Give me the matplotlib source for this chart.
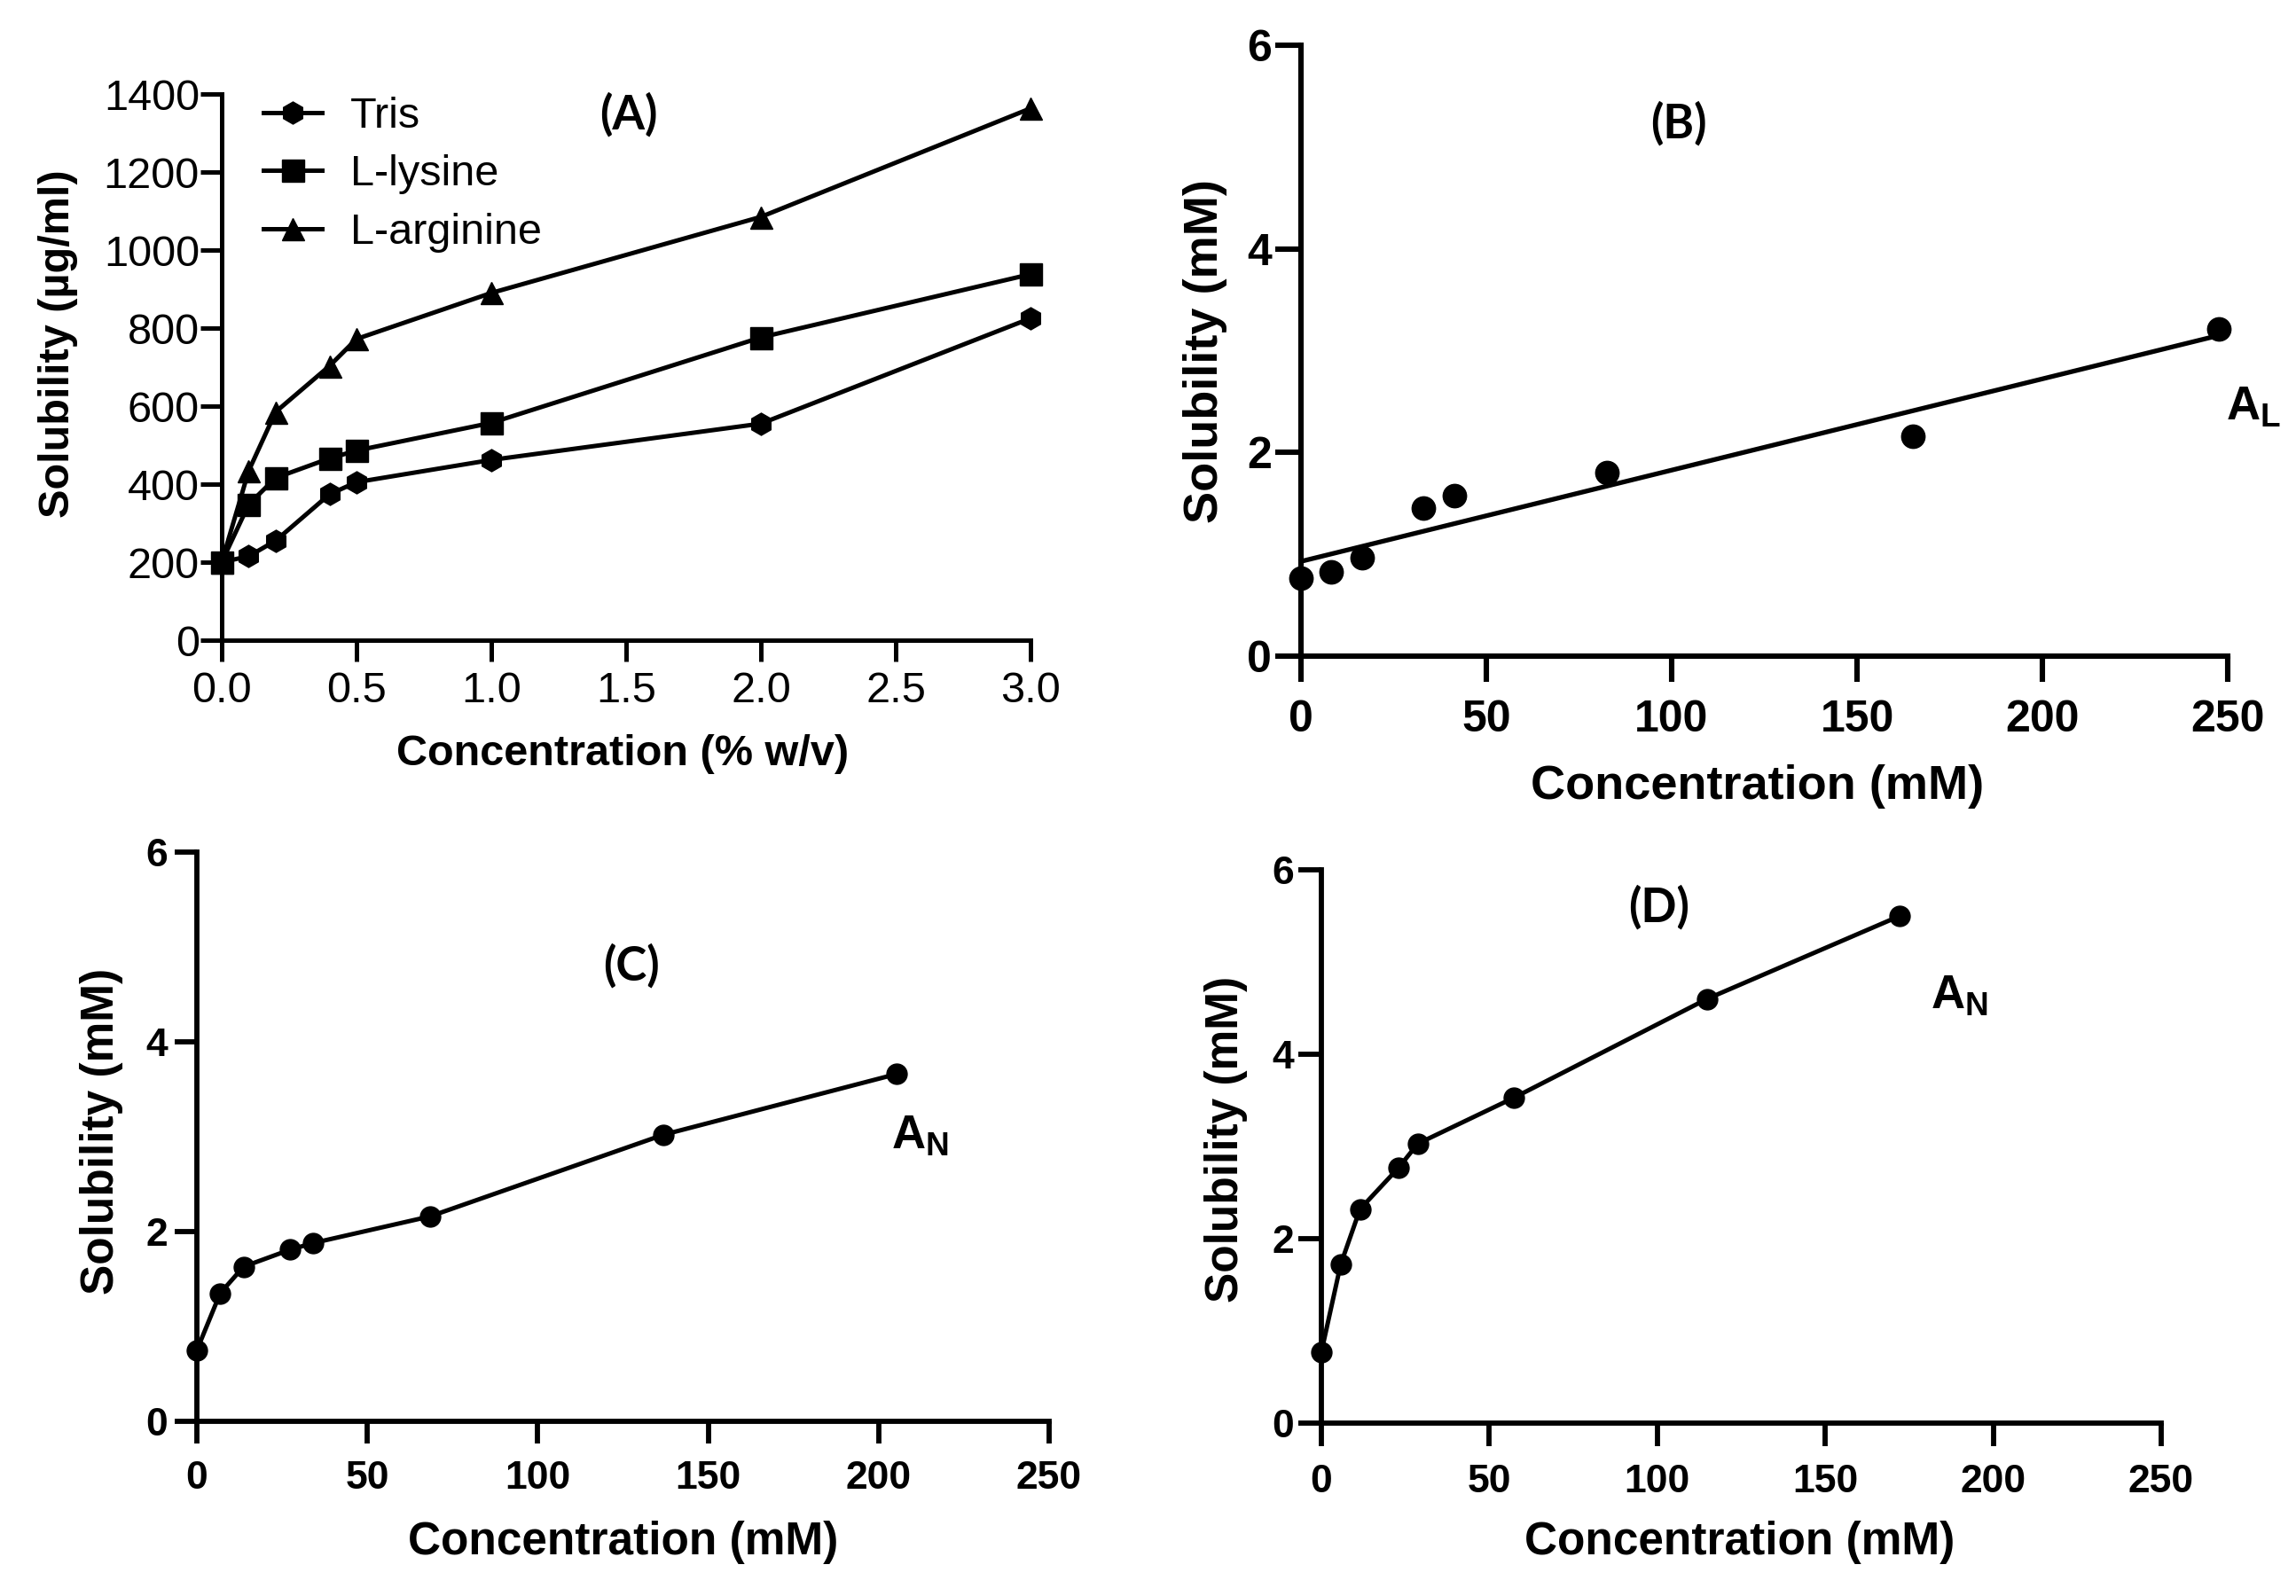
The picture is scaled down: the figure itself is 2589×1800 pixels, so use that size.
import numpy as np
import matplotlib
matplotlib.use("Agg")
import matplotlib.pyplot as plt
from matplotlib import font_manager

# panel A: solubility (ug/ml) vs concentration (% w/v)
conc_pct = [0.0, 0.1, 0.2, 0.4, 0.5, 1.0, 2.0, 3.0]
tris_ug = [200, 215, 255, 374, 405, 462, 555, 825]
lysine_ug = [200, 348, 416, 466, 486, 557, 776, 938]
arginine_ug = [200, 434, 585, 703, 772, 890, 1085, 1363]

# panel B: Tris (mM), linear fit
b_conc = [0, 8.25, 16.5, 33.0, 41.3, 82.5, 165.1, 247.6]
b_sol = [0.77, 0.83, 0.97, 1.45, 1.58, 1.80, 2.16, 3.21]

# panel C: L-lysine (mM)
c_conc = [0, 6.84, 13.7, 27.4, 34.2, 68.4, 136.8, 205.2]
c_sol = [0.75, 1.35, 1.63, 1.81, 1.88, 2.16, 3.02, 3.66]

# panel D: L-arginine (mM)
d_conc = [0, 5.74, 11.5, 23.0, 28.7, 57.4, 114.8, 172.2]
d_sol = [0.77, 1.72, 2.32, 2.77, 3.03, 3.53, 4.60, 5.50]

names = {f.name for f in font_manager.fontManager.ttflist}
narrow = 'Liberation Sans Narrow' if 'Liberation Sans Narrow' in names else 'Liberation Sans'
plt.rcParams['font.family'] = ['Liberation Sans', 'DejaVu Sans']
plt.rcParams['mathtext.fontset'] = 'custom'
plt.rcParams['mathtext.rm'] = 'Liberation Sans'
plt.rcParams['mathtext.bf'] = 'Liberation Sans:bold'

fig = plt.figure(figsize=(25.89, 18), dpi=100)


def frame(ax, lw, ticklen, fs, bold=True, family=None, xpad=6, ypad=3):
    for s in ['top', 'right']:
        ax.spines[s].set_visible(False)
    for s in ['left', 'bottom']:
        ax.spines[s].set_linewidth(lw)
    ax.tick_params(direction='out', length=ticklen, width=lw, labelsize=fs)
    ax.tick_params(axis='x', pad=xpad)
    ax.tick_params(axis='y', pad=ypad)
    for t in ax.get_xticklabels() + ax.get_yticklabels():
        t.set_fontweight('bold' if bold else 'normal')
        if family:
            t.set_family(family)


# ---- (A)
axA = fig.add_axes([250/2589, 1-722/1800, 912/2589, 616/1800])
kw = dict(color='black', lw=3.6, ms=18, clip_on=False, zorder=3)
axA.plot(conc_pct, tris_ug, marker='h', label='Tris', **kw)
axA.plot(conc_pct, lysine_ug, marker='s', label='L-lysine', **kw)
axA.plot(conc_pct, arginine_ug, marker='^', label='L-arginine', **kw)
axA.set_xlim(0, 3.0)
axA.set_ylim(0, 1400)
axA.set_xticks(np.arange(0, 3.01, 0.5))
axA.set_xticklabels([f'{v:.1f}' for v in np.arange(0, 3.01, 0.5)])
axA.set_yticks(np.arange(0, 1401, 200))
frame(axA, 3.6, 17, 35, bold=False, family=narrow, xpad=8, ypad=1)
axA.set_xlabel('Concentration (% w/v)', fontsize=35, fontweight='bold', va='center')
axA.xaxis.set_label_coords(0.496, -0.208)
axA.set_ylabel('Solubility (µg/ml)', fontsize=35, fontweight='bold', va='center')
axA.yaxis.set_label_coords(-0.202, 0.542)
axA.text(1.51, 1348, '(A)', fontsize=38, fontweight='bold', family='Lato',
         ha='center', va='center')
axA.legend(loc='upper left', bbox_to_anchor=(0.052, 0.995), frameon=False,
           fontsize=35, handlelength=1.35, handletextpad=0.65, labelspacing=0.42,
           borderpad=0, borderaxespad=0)

# ---- (B)
axB = fig.add_axes([1467/2589, 1-740/1800, 1045/2589, 689/1800])
axB.plot(b_conc, b_sol, 'o', color='black', ms=19, clip_on=False, zorder=3)
slope, icpt = np.polyfit(b_conc, b_sol, 1)
xfit = np.array([b_conc[0], b_conc[-1]])
axB.plot(xfit, slope*xfit + icpt, color='black', lw=3.8, clip_on=False)
axB.set_xlim(0, 250)
axB.set_ylim(0, 6)
axB.set_xticks(range(0, 251, 50))
axB.set_yticks([0, 2, 4, 6])
frame(axB, 4.4, 21, 36, xpad=14, ypad=3)
axB.set_xlabel('Concentration (mM)', fontsize=39, fontweight='bold', va='center')
axB.xaxis.set_label_coords(0.492, -0.213)
axB.set_ylabel('Solubility (mM)', fontsize=39, fontweight='bold', va='center')
axB.yaxis.set_label_coords(-0.103, 0.5)
axB.text(102, 5.23, '(B)', fontsize=38, fontweight='bold', family='Lato',
         ha='center', va='center')
axB.text(257, 2.44, r'$\mathbf{A_L}$', fontsize=38, ha='center', va='center')

# ---- (C)
axC = fig.add_axes([222/2589, 1-1603/1800, 961/2589, 642/1800])
axC.plot(c_conc, c_sol, marker='o', color='black', lw=3.6, ms=16.5, clip_on=False, zorder=3)
axC.set_xlim(0, 250)
axC.set_ylim(0, 6)
axC.set_xticks(range(0, 251, 50))
axC.set_yticks([0, 2, 4, 6])
frame(axC, 4.2, 18, 32, xpad=14, ypad=6)
axC.set_xlabel('Concentration (mM)', fontsize=37, fontweight='bold', va='center')
axC.xaxis.set_label_coords(0.5, -0.212)
axC.set_ylabel('Solubility (mM)', fontsize=37, fontweight='bold', va='center')
axC.yaxis.set_label_coords(-0.112, 0.509)
axC.text(127.5, 4.8, '(C)', fontsize=38, fontweight='bold', family='Lato',
         ha='center', va='center')
axC.text(212, 3.0, r'$\mathbf{A_N}$', fontsize=38, ha='center', va='center')

# ---- (D)
axD = fig.add_axes([1490/2589, 1-1605/1800, 947/2589, 624/1800])
axD.plot(d_conc, d_sol, marker='o', color='black', lw=3.6, ms=16.5, clip_on=False, zorder=3)
axD.set_xlim(0, 250)
axD.set_ylim(0, 6)
axD.set_xticks(range(0, 251, 50))
axD.set_yticks([0, 2, 4, 6])
frame(axD, 4.2, 19, 32, xpad=14, ypad=3)
axD.set_xlabel('Concentration (mM)', fontsize=37, fontweight='bold', va='center')
axD.xaxis.set_label_coords(0.498, -0.215)
axD.set_ylabel('Solubility (mM)', fontsize=37, fontweight='bold', va='center')
axD.yaxis.set_label_coords(-0.113, 0.513)
axD.text(100.6, 5.59, '(D)', fontsize=38, fontweight='bold', family='Lato',
         ha='center', va='center')
axD.text(190, 4.63, r'$\mathbf{A_N}$', fontsize=38, ha='center', va='center')

fig.savefig('out.png', dpi=100)
